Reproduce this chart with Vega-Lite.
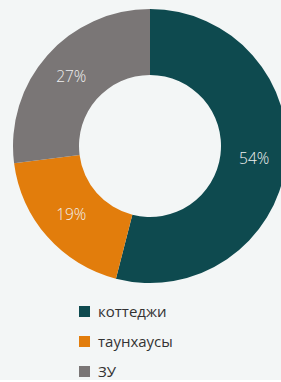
{
  "$schema": "https://vega.github.io/schema/vega-lite/v6.json",
  "background": "#f3f6f6",
  "padding": 0,
  "width": 300,
  "height": 292,
  "config": {"view": {"stroke": null}, "font": "Open Sans"},
  "data": {"values": [
    {"cat": "коттеджи", "value": 54, "label": "54%", "ord": 1},
    {"cat": "таунхаусы", "value": 19, "label": "19%", "ord": 2},
    {"cat": "ЗУ", "value": 27, "label": "27%", "ord": 3}
  ]},
  "encoding": {
    "theta": {"field": "value", "type": "quantitative", "stack": true},
    "order": {"field": "ord", "type": "quantitative"}
  },
  "layer": [
    {
      "mark": {"type": "arc", "outerRadius": 137, "innerRadius": 71},
      "encoding": {
        "color": {
          "field": "cat", "type": "nominal",
          "scale": {"domain": ["коттеджи", "таунхаусы", "ЗУ"], "range": ["#0e4a4f", "#e27d0c", "#7a7676"]},
          "legend": {
            "title": null, "orient": "none", "legendX": 77, "legendY": 304,
            "symbolType": "square", "symbolSize": 121, "symbolStrokeWidth": 0,
            "labelFontSize": 15, "labelColor": "#333333", "labelFont": "Open Sans",
            "rowPadding": 14, "padding": 0, "labelOffset": 6
          }
        }
      }
    },
    {
      "mark": {"type": "text", "radius": 105, "fontSize": 15.5, "color": "#f0f0f0", "font": "Open Sans", "fontWeight": 300},
      "encoding": {"text": {"field": "label", "type": "nominal"}}
    }
  ]
}
